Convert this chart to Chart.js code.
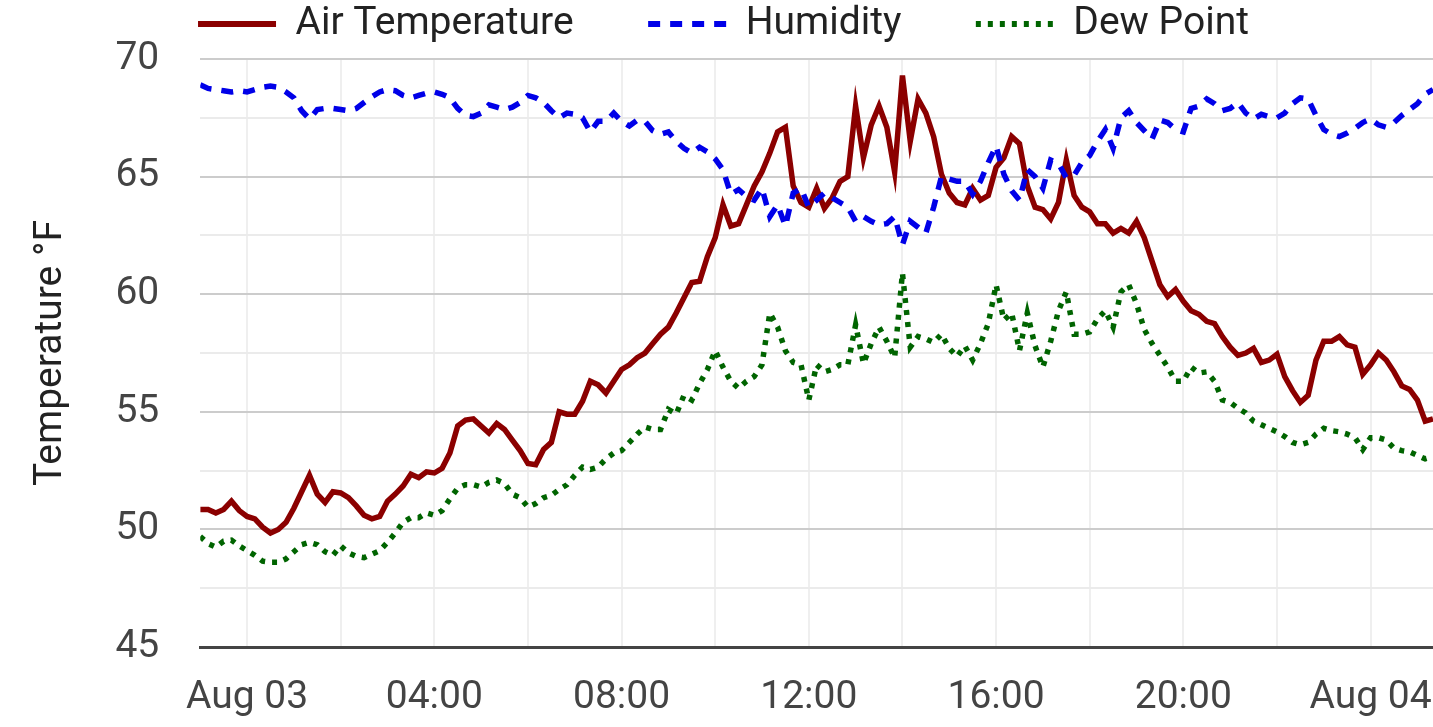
<!DOCTYPE html>
<html lang="en">
<head>
    <meta charset="UTF-8" />
    <title>Air Temperature, Humidity, Dew Point</title>
    <script src="https://cdn.jsdelivr.net/npm/chart.js"></script>
    <style>
        html, body {
            margin: 0;
            padding: 0;
            background: #fff;
        }

        #wrap {
            width: 1433px;
            height: 727px;
        }
    </style>
</head>
<body>
    <div id="wrap"><canvas id="chart"></canvas></div>

    <script>
        // readings every 10 minutes, starting Aug 02 23:00 (hour -1 relative to Aug 03 00:00)
        const startHour = -1;
        const stepHours = 1 / 6;

        const airTemp = [
            50.85, 50.85, 50.7, 50.85, 51.2, 50.8, 50.55, 50.45, 50.1, 49.85,
            50.0, 50.3, 50.9, 51.6, 52.3, 51.5, 51.15, 51.6, 51.55, 51.35,
            51.0, 50.6, 50.45, 50.55, 51.2, 51.5, 51.85, 52.35, 52.2, 52.45,
            52.4, 52.6, 53.25, 54.4, 54.65, 54.7, 54.4, 54.1, 54.5, 54.25,
            53.8, 53.35, 52.8, 52.75, 53.4, 53.7, 55.0, 54.9, 54.9, 55.45,
            56.3, 56.15, 55.8, 56.3, 56.8, 57.0, 57.3, 57.5, 57.9, 58.3,
            58.6, 59.2, 59.85, 60.5, 60.55, 61.6, 62.4, 63.8, 62.9, 63.0,
            63.8, 64.6, 65.2, 66.0, 66.9, 67.1, 64.6, 63.9, 63.7, 64.5,
            63.65, 64.1, 64.8, 65.0, 68.0, 65.8, 67.2, 68.0, 67.1, 65.2,
            69.3, 66.5, 68.3, 67.7, 66.7, 65.1, 64.3, 63.9, 63.8, 64.5,
            64.0, 64.2, 65.4, 65.8, 66.7, 66.4, 64.6, 63.7, 63.6, 63.2,
            63.9, 65.7, 64.2, 63.7, 63.5, 63.0, 63.0, 62.6, 62.8, 62.6,
            63.1, 62.4, 61.4, 60.4, 59.9, 60.2, 59.7, 59.3, 59.15, 58.85,
            58.75, 58.2, 57.75, 57.4, 57.5, 57.7, 57.1, 57.2, 57.45, 56.5,
            55.9, 55.4, 55.7, 57.2, 58.0, 58.0, 58.2, 57.85, 57.75, 56.6,
            57.0, 57.5, 57.2, 56.7, 56.1, 55.95, 55.5, 54.6, 54.7
        ];

        const humidity = [
            68.9, 68.75, 68.7, 68.65, 68.6, 68.65, 68.6, 68.7, 68.8, 68.85,
            68.8, 68.6, 68.35, 67.8, 67.45, 67.85, 67.9, 67.9, 67.85, 67.8,
            67.9, 68.15, 68.4, 68.6, 68.7, 68.65, 68.45, 68.35, 68.45, 68.55,
            68.6, 68.5, 68.35, 67.9, 67.6, 67.55, 67.7, 68.05, 67.95, 67.85,
            67.95, 68.15, 68.45, 68.35, 68.15, 67.8, 67.5, 67.7, 67.65, 67.5,
            66.9, 67.35, 67.35, 67.7, 67.35, 67.15, 67.4, 67.35, 66.95, 66.8,
            66.9, 66.5, 66.2, 66.0, 66.25, 66.05, 65.75, 65.3, 64.25, 64.45,
            64.15, 64.0, 64.5, 63.3, 63.8, 62.9, 64.3, 64.5, 63.7, 64.0,
            64.3, 64.1, 63.9, 63.7, 63.1, 63.3, 63.1, 62.95, 63.0, 63.3,
            62.1, 63.1, 62.85, 62.6, 63.7, 65.0, 64.9, 64.8, 64.8, 64.25,
            64.8, 65.6, 66.3, 65.1, 64.4, 64.0, 65.3, 65.0, 64.5, 65.7,
            65.55, 64.95, 65.05, 65.6, 65.9, 66.5, 67.0, 66.2, 67.5, 67.8,
            67.3, 66.95, 66.6, 67.4, 67.3, 67.0, 66.9, 67.9, 68.0, 68.3,
            68.1, 67.8, 67.9, 68.15, 67.7, 67.45, 67.65, 67.55, 67.5, 67.7,
            68.1, 68.35, 68.3, 67.6, 67.0, 66.8, 66.7, 66.85, 67.05, 67.3,
            67.45, 67.2, 67.1, 67.3, 67.6, 67.85, 68.1, 68.5, 68.7
        ];

        const dewPoint = [
            49.7, 49.4, 49.25, 49.5, 49.55, 49.3, 49.1, 48.9, 48.65, 48.6,
            48.6, 48.75, 49.05, 49.35, 49.45, 49.35, 49.05, 48.9, 49.3, 49.0,
            48.85, 48.8, 48.95, 49.1, 49.45, 49.85, 50.3, 50.5, 50.5, 50.7,
            50.6, 50.8, 51.3, 51.75, 51.9, 51.9, 51.8, 52.0, 52.1, 51.95,
            51.5, 51.35, 50.95, 51.1, 51.35, 51.45, 51.7, 51.9, 52.3, 52.65,
            52.55, 52.65, 53.0, 53.25, 53.35, 53.7, 54.05, 54.35, 54.25, 54.25,
            55.1, 54.9, 55.7, 55.5, 56.2, 56.8, 57.6, 56.9, 56.3, 56.0,
            56.3, 56.5, 57.0, 59.2, 58.6, 57.6, 57.1, 57.0, 55.5, 57.0,
            56.7, 56.8, 57.0, 57.0, 58.7, 57.05, 57.9, 58.6, 58.0, 57.3,
            60.9, 57.75, 58.2, 58.1, 57.95, 58.3, 57.7, 57.35, 57.8, 57.2,
            57.9, 58.75, 60.4, 58.9, 59.2, 57.6, 59.2, 57.8, 56.9, 58.0,
            59.3, 60.1, 58.3, 58.3, 58.4, 58.95, 59.3, 58.6, 60.1, 60.4,
            59.6, 58.5, 57.9, 57.4, 56.9, 56.3, 56.3, 56.9, 56.65, 56.7,
            56.3, 55.5, 55.4, 55.15, 54.95, 54.6, 54.45, 54.3, 54.15, 53.95,
            53.7, 53.6, 53.7, 54.05, 54.3, 54.2, 54.15, 54.05, 53.9, 53.4,
            53.9, 53.9, 53.8, 53.45, 53.35, 53.3, 53.15, 53.0, 53.1
        ];

        // x ticks every 2 h, labels every 4 h
        const hourTicks = [0, 2, 4, 6, 8, 10, 12, 14, 16, 18, 20, 22, 24];
        const hourLabels = {
            0: 'Aug 03', 4: '04:00', 8: '08:00', 12: '12:00',
            16: '16:00', 20: '20:00', 24: 'Aug 04'
        };

        const times = airTemp.map((_, i) => startHour + i * stepHours);
        const toPoints = vals => vals.map((v, i) => ({ x: times[i], y: v }));

        // legend needs a wide gap between items but little height
        const legendGap = {
            id: 'legendGap',
            beforeInit(chart) {
                const fit = chart.legend.fit;
                chart.legend.fit = function () {
                    fit.bind(chart.legend)();
                    this.height += 5.5;
                };
            }
        };

        const font = 'Roboto, "Noto Sans", Arial, sans-serif';

        new Chart(document.getElementById('chart'), {
            type: 'line',
            data: {
                datasets: [
                    {
                        label: 'Air Temperature',
                        data: toPoints(airTemp),
                        borderColor: '#8b0000',
                        backgroundColor: '#8b0000',
                        borderWidth: 5.5,
                        order: 1
                    },
                    {
                        label: 'Humidity',
                        data: toPoints(humidity),
                        borderColor: '#0000e8',
                        backgroundColor: '#0000e8',
                        borderWidth: 5.5,
                        borderDash: [12, 10],
                        order: 0
                    },
                    {
                        label: 'Dew Point',
                        data: toPoints(dewPoint),
                        borderColor: '#006400',
                        backgroundColor: '#006400',
                        borderWidth: 5.5,
                        borderDash: [5, 7],
                        order: 2
                    }
                ]
            },
            options: {
                responsive: true,
                maintainAspectRatio: false,
                animation: false,
                layout: { padding: { top: -70, left: 14, right: 0, bottom: -23 } },
                elements: { point: { radius: 0 }, line: { tension: 0 } },
                plugins: {
                    tooltip: { enabled: false },
                    legend: {
                        position: 'top',
                        labels: {
                            usePointStyle: true,
                            pointStyle: 'line',
                            pointStyleWidth: 78,
                            padding: 74.5,
                            color: '#222',
                            font: { family: font, size: 39 },
                            sort: (a, b) => a.datasetIndex - b.datasetIndex,
                            generateLabels: chart =>
                                Chart.defaults.plugins.legend.labels.generateLabels(chart).map(item => {
                                    const ds = chart.data.datasets[item.datasetIndex];
                                    return Object.assign(item, {
                                        strokeStyle: ds.borderColor,
                                        lineDash: ds.borderDash || [],
                                        lineWidth: 6
                                    });
                                })
                        }
                    }
                },
                scales: {
                    x: {
                        type: 'linear',
                        min: startHour,
                        max: startHour + (airTemp.length - 1) * stepHours,
                        afterBuildTicks: s => { s.ticks = hourTicks.map(v => ({ value: v })); },
                        ticks: {
                            autoSkip: false,
                            maxRotation: 0,
                            padding: 0,
                            color: '#444',
                            font: { family: font, size: 39, lineHeight: 2.64 },
                            callback: v => hourLabels[v] || ''
                        },
                        grid: { color: '#efefef', lineWidth: 2, drawTicks: false },
                        border: { display: true, color: '#444', width: 3 }
                    },
                    y: {
                        min: 45,
                        max: 70,
                        ticks: {
                            stepSize: 2.5,
                            autoSkip: false,
                            padding: 41,
                            color: '#444',
                            font: { family: font, size: 39, lineHeight: 0.9 },
                            callback: v => (v % 5 === 0 ? v : '')
                        },
                        grid: {
                            color: c => (c.tick.value % 5 === 0 ? '#cccccc' : '#ebebeb'),
                            lineWidth: 2,
                            drawTicks: false
                        },
                        border: { display: false },
                        title: {
                            display: true,
                            text: 'Temperature °F',
                            color: '#222',
                            font: { family: font, size: 39 },
                            padding: { top: 13.6, bottom: 0 }
                        }
                    }
                }
            },
            plugins: [legendGap]
        });
    </script>
</body>
</html>
